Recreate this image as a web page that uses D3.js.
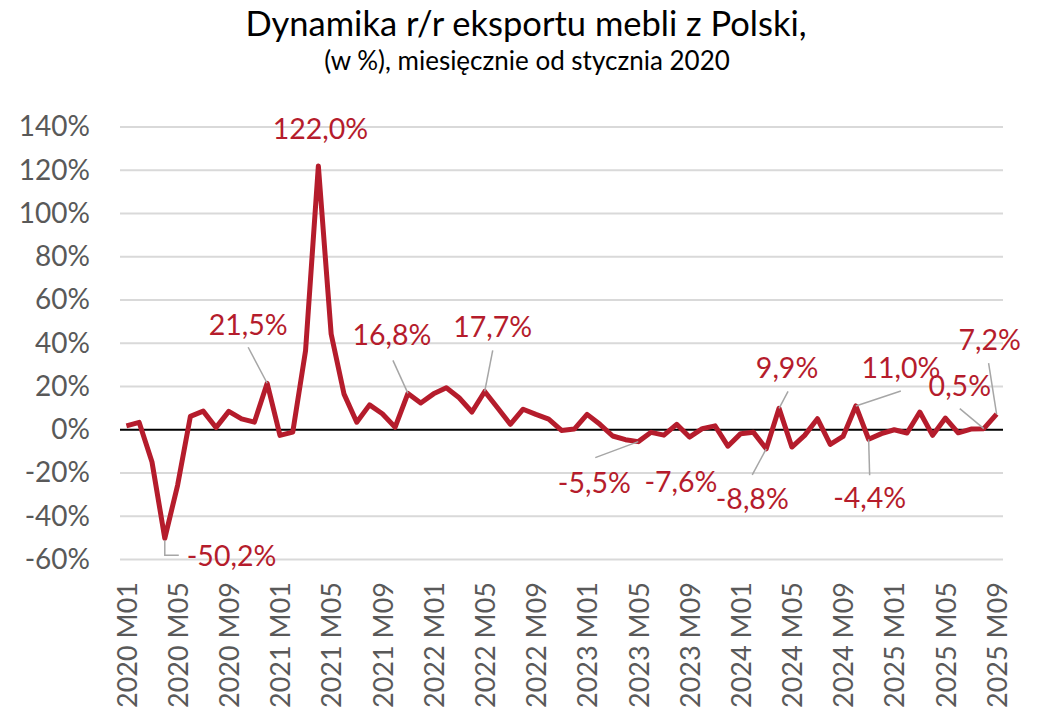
<!DOCTYPE html>
<html>
<head>
<meta charset="utf-8">
<script src="https://cdn.jsdelivr.net/npm/d3@7"></script>
<style>
    body { margin: 0; background: #fff; }
    text { font-family: Lato, "Open Sans", sans-serif; }
</style>
</head>
<body>
<div id="chart"></div>
<script>
const years = [2020, 2021, 2022, 2023, 2024, 2025];

// monthly y/y change, %, Jan 2020 .. Sep 2025
const values = [
    1.8, 3.4, -14.9, -50.2, -25.7, 6.2, 8.6, 1.0, 8.5, 5.0, 3.5, 21.5,
    -2.6, -1.1, 36.6, 122.0, 44.3, 16.6, 3.5, 11.5, 7.4, 1.2, 16.8, 12.4,
    16.6, 19.4, 14.8, 8.2, 17.7, 10.2, 2.5, 9.5, 7.1, 4.9, -0.3, 0.3,
    7.1, 2.5, -2.9, -4.6, -5.5, -1.2, -2.5, 2.5, -3.4, 0.5, 1.8, -7.6,
    -1.8, -1.2, -8.8, 9.9, -8.0, -2.6, 5.1, -6.8, -3.1, 11.0, -4.4, -1.8,
    0.0, -1.5, 8.2, -2.6, 5.4, -1.4, 0.3, 0.5, 7.2
];

const months = [];
years.forEach(y => {
    for (let m = 1; m <= 12; m++) months.push(`${y} M${String(m).padStart(2, "0")}`);
});
const categories = months.slice(0, values.length);
const tickLabels = categories.filter((d, i) => i % 4 === 0);
const yTicks = [-60, -40, -20, 0, 20, 40, 60, 80, 100, 120, 140];

// indices of labelled points
const labelled = [3, 11, 15, 22, 28, 40, 47, 50, 51, 57, 58, 67, 68];

// label placement relative to the point: text offset, leader start (null = no leader)
const labelLayout = {
    3:  { tx: 22, ty: 28, anchor: "start", leader: "elbow" },
    11: { tx: -19, ty: -48, lx: -19, ly: -36 },
    15: { tx: 2, ty: -27, lx: null },
    22: { tx: -16, ty: -48, lx: -15, ly: -33 },
    28: { tx: 8, ty: -54, lx: 8, ly: -41 },
    40: { tx: -44, ty: 51, lx: -43, ly: 16 },
    47: { tx: -47, ty: 46, lx: null },
    50: { tx: -14, ty: 60, lx: -14, ly: 26 },
    51: { tx: 8, ty: -30, lx: 9, ly: -17 },
    57: { tx: 45, ty: -28, lx: 45, ly: -15 },
    58: { tx: 1, ty: 69, lx: 1, ly: 36 },
    67: { tx: -24, ty: -33, lx: -24, ly: -20 },
    68: { tx: -7, ty: -64, lx: -8, ly: -51 }
};

const width = 1037;
const height = 714;
const red = "#b51c2c";

const svg = d3.select("#chart")
    .append("svg")
    .attr("width", width)
    .attr("height", height);

svg.append("rect").attr("width", width).attr("height", height).attr("fill", "#fff");

const x = d3.scalePoint()
    .domain(categories)
    .range([120, 1003])
    .padding(0.5);

const y = d3.scaleLinear()
    .domain([-60, 140])
    .range([559.5, 127]);

// title
svg.append("text")
    .attr("x", 526).attr("y", 36)
    .attr("text-anchor", "middle")
    .attr("font-size", 34.5)
    .attr("fill", "#000")
    .text("Dynamika r/r eksportu mebli z Polski,");

svg.append("text")
    .attr("x", 527).attr("y", 70)
    .attr("text-anchor", "middle")
    .attr("font-size", 26)
    .attr("fill", "#000")
    .text("(w %), miesięcznie od stycznia 2020");

// gridlines
svg.append("g")
    .selectAll("line")
    .data(yTicks.filter(d => d !== 0))
    .enter().append("line")
    .attr("x1", 120).attr("x2", 1003)
    .attr("y1", d => y(d)).attr("y2", d => y(d))
    .attr("stroke", "#d9d9d9")
    .attr("stroke-width", 2);

// y axis labels
const yAxis = svg.append("g")
    .attr("transform", "translate(90,0)")
    .call(d3.axisLeft(y).tickValues(yTicks).tickSize(0).tickPadding(0).tickFormat(d => d + "%"));
yAxis.select(".domain").remove();
yAxis.selectAll("text")
    .attr("font-size", 28)
    .attr("fill", "#595959")
    .attr("font-family", "Lato, sans-serif");

// zero line
svg.append("line")
    .attr("x1", 120).attr("x2", 1003)
    .attr("y1", y(0)).attr("y2", y(0))
    .attr("stroke", "#000")
    .attr("stroke-width", 2);

// x axis labels
const xAxis = svg.append("g")
    .attr("transform", "translate(0,582)")
    .call(d3.axisBottom(x).tickValues(tickLabels).tickSize(0).tickPadding(0));
xAxis.select(".domain").remove();
xAxis.selectAll("text")
    .attr("font-size", 27)
    .attr("fill", "#595959")
    .attr("font-family", "Lato, sans-serif")
    .attr("text-anchor", "end")
    .attr("transform", "rotate(-90)")
    .attr("x", 0).attr("y", 0)
    .attr("dy", "0.36em");

// line
const line = d3.line()
    .x((d, i) => x(categories[i]))
    .y(d => y(d));

svg.append("path")
    .datum(values)
    .attr("d", line)
    .attr("fill", "none")
    .attr("stroke", red)
    .attr("stroke-width", 5)
    .attr("stroke-linejoin", "round");

// data labels and leader lines
const ann = svg.append("g");
labelled.forEach(i => {
    const px = x(categories[i]);
    const py = y(values[i]);
    const lay = labelLayout[i];
    if (lay.leader === "elbow") {
        ann.append("path")
            .attr("d", `M${px},${py + 2}V${py + 17}H${px + 14}`)
            .attr("fill", "none")
            .attr("stroke", "#a6a6a6")
            .attr("stroke-width", 1.5);
    } else if (lay.lx != null) {
        ann.append("line")
            .attr("x1", px + lay.lx).attr("y1", py + lay.ly)
            .attr("x2", px).attr("y2", py)
            .attr("stroke", "#a6a6a6")
            .attr("stroke-width", 1.5);
    }
    ann.append("text")
        .attr("x", px + lay.tx)
        .attr("y", py + lay.ty)
        .attr("text-anchor", lay.anchor || "middle")
        .attr("font-size", 28.5)
        .attr("fill", red)
        .text(values[i].toFixed(1).replace(".", ",") + "%");
});
</script>
</body>
</html>
